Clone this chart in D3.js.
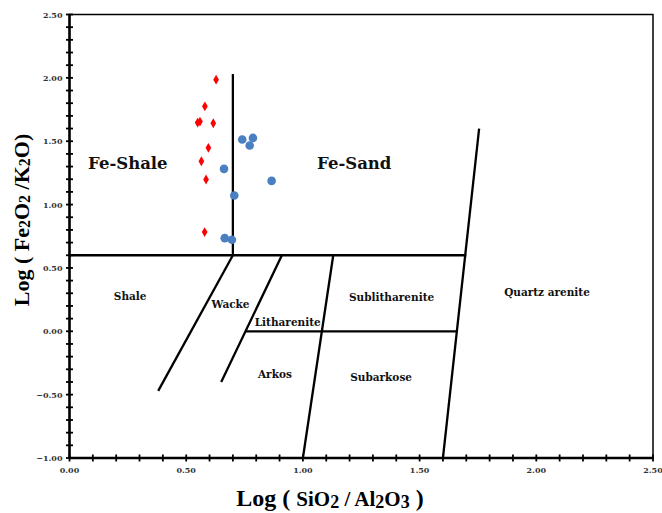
<!DOCTYPE html>
<html>
<head>
<meta charset="utf-8">
<script src="https://cdn.jsdelivr.net/npm/d3@7"></script>
<style>
  body { margin: 0; background: #fff; }
  svg { display: block; }
</style>
</head>
<body>
<div id="chart"></div>
<script>
// red diamonds (Fe-Shale side) and blue circles
var redX = [0.628, 0.580, 0.549, 0.559, 0.616, 0.595, 0.565, 0.585, 0.579];
var redY = [1.986, 1.775, 1.647, 1.655, 1.642, 1.448, 1.342, 1.198, 0.783];
var blueX = [0.740, 0.786, 0.772, 0.662, 0.866, 0.706, 0.665, 0.696];
var blueY = [1.513, 1.526, 1.466, 1.282, 1.187, 1.072, 0.735, 0.722];

// classification boundaries [x1, y1, x2, y2]
var boundaries = [
    [0, 0.6, 1.70, 0.6],
    [0.70, 0.6, 0.70, 2.03],
    [0.70, 0.6, 0.38, -0.47],
    [0.91, 0.6, 0.65, -0.40],
    [0.755, 0.0, 1.66, 0.0],
    [1.13, 0.6, 1.0, -1.0],
    [1.60, -1.0, 1.755, 1.6]
];

var fieldNames = ["Fe-Shale", "Fe-Sand", "Shale", "Wacke", "Litharenite", "Sublitharenite", "Quartz arenite", "Arkos", "Subarkose"];
var fieldX = [0.25, 1.22, 0.26, 0.69, 0.935, 1.38, 2.046, 0.88, 1.335];
var fieldY = [1.28, 1.28, 0.245, 0.18, 0.04, 0.24, 0.28, -0.37, -0.39];
var fieldBig = [true, true, false, false, false, false, false, false, false];

var width = 662,
    height = 513;

var svg = d3.select("#chart")
    .append("svg")
    .attr("width", width)
    .attr("height", height);

var x = d3.scaleLinear().domain([0, 2.5]).range([69.5, 653]);
var y = d3.scaleLinear().domain([-1, 2.5]).range([458, 14.5]);
var fmt = d3.format(".2f");

/* frame */
svg.append("rect")
    .attr("x", x(0)).attr("y", y(2.5))
    .attr("width", x(2.5) - x(0)).attr("height", y(-1) - y(2.5))
    .attr("fill", "none").attr("stroke", "#000").attr("stroke-width", 1.5);

/* axes lines */
svg.append("line").attr("x1", x(0)).attr("x2", x(0)).attr("y1", y(2.5)).attr("y2", y(-1))
    .attr("stroke", "#000").attr("stroke-width", 2.5);
svg.append("line").attr("x1", x(0)).attr("x2", x(2.5)).attr("y1", y(-1)).attr("y2", y(-1))
    .attr("stroke", "#000").attr("stroke-width", 2.5);

/* cross ticks every 0.1 */
var xt = d3.range(0, 26).map(function(i) { return i / 10; });
var yt = d3.range(-10, 26).map(function(i) { return i / 10; });

svg.append("g").selectAll("line").data(xt).enter().append("line")
    .attr("x1", function(d) { return x(d); }).attr("x2", function(d) { return x(d); })
    .attr("y1", y(-1) - 3.5).attr("y2", y(-1) + 3.5)
    .attr("stroke", "#000").attr("stroke-width", 1.8);
svg.append("g").selectAll("line").data(yt).enter().append("line")
    .attr("y1", function(d) { return y(d); }).attr("y2", function(d) { return y(d); })
    .attr("x1", x(0) - 3.5).attr("x2", x(0) + 3.5)
    .attr("stroke", "#000").attr("stroke-width", 1.8);

/* tick labels */
var labelTicks = [-1, -0.5, 0, 0.5, 1, 1.5, 2, 2.5];
svg.append("g").selectAll("text").data(labelTicks).enter().append("text")
    .attr("x", x(0) - 7).attr("y", function(d) { return y(d) + 3; })
    .attr("text-anchor", "end")
    .attr("font-family", "DejaVu Serif").attr("font-weight", "bold").attr("font-size", 8)
    .attr("fill", "#333")
    .text(function(d) { return fmt(d); });
svg.append("g").selectAll("text").data([0, 0.5, 1, 1.5, 2, 2.5]).enter().append("text")
    .attr("x", function(d) { return x(d); }).attr("y", y(-1) + 15)
    .attr("text-anchor", "middle")
    .attr("font-family", "DejaVu Serif").attr("font-weight", "bold").attr("font-size", 8)
    .attr("fill", "#333")
    .text(function(d) { return fmt(d); });

/* boundaries */
svg.append("g").selectAll("line").data(boundaries).enter().append("line")
    .attr("x1", function(d) { return x(d[0]); })
    .attr("y1", function(d) { return y(d[1]); })
    .attr("x2", function(d) { return x(d[2]); })
    .attr("y2", function(d) { return y(d[3]); })
    .attr("stroke", "#000").attr("stroke-width", 2.3);

/* field names */
svg.append("g").selectAll("text").data(fieldNames).enter().append("text")
    .attr("x", function(d, i) { return x(fieldX[i]); })
    .attr("y", function(d, i) { return y(fieldY[i]); })
    .attr("text-anchor", "middle")
    .attr("font-family", "DejaVu Serif").attr("font-weight", "bold")
    .attr("font-size", function(d, i) { return fieldBig[i] ? 16.5 : 10.5; })
    .attr("fill", "#111")
    .text(function(d) { return d; });

/* points */
svg.append("g").selectAll("path").data(redX).enter().append("path")
    .attr("d", d3.symbol().type(d3.symbolDiamond).size(28))
    .attr("transform", function(d, i) { return "translate(" + x(d) + "," + y(redY[i]) + ")"; })
    .attr("fill", "#ff0000");
svg.append("g").selectAll("circle").data(blueX).enter().append("circle")
    .attr("cx", function(d) { return x(d); })
    .attr("cy", function(d, i) { return y(blueY[i]); })
    .attr("r", 4.3)
    .attr("fill", "#4a7fc1");

/* axis titles */
var xt2 = svg.append("text")
    .attr("x", 330).attr("y", 506)
    .attr("text-anchor", "middle")
    .attr("font-family", "Liberation Serif").attr("font-weight", "bold").attr("font-size", 24);
xt2.append("tspan").text("Log ( ");
xt2.append("tspan").attr("font-size", 21).text("SiO");
xt2.append("tspan").attr("font-size", 18).attr("dy", 2).text("2");
xt2.append("tspan").attr("font-size", 21).attr("dy", -2).text("  /  Al");
xt2.append("tspan").attr("font-size", 18).attr("dy", 2).text("2");
xt2.append("tspan").attr("font-size", 21).attr("dy", -2).text("O");
xt2.append("tspan").attr("font-size", 18).attr("dy", 2).text("3");
xt2.append("tspan").attr("dy", -2).text(" )");

var yt2 = svg.append("text")
    .attr("transform", "translate(29,220) rotate(-90)")
    .attr("text-anchor", "middle")
    .attr("font-family", "Liberation Serif").attr("font-weight", "bold").attr("font-size", 22);
yt2.append("tspan").text("Log ( Fe");
yt2.append("tspan").attr("font-size", 16).attr("dy", 1).text("2");
yt2.append("tspan").attr("dy", -1).text("O");
yt2.append("tspan").attr("font-size", 16).attr("dy", 1).text("2");
yt2.append("tspan").attr("dy", -1).text(" /K");
yt2.append("tspan").attr("font-size", 16).attr("dy", 1).text("2");
yt2.append("tspan").attr("dy", -1).text("O)");
</script>
</body>
</html>
